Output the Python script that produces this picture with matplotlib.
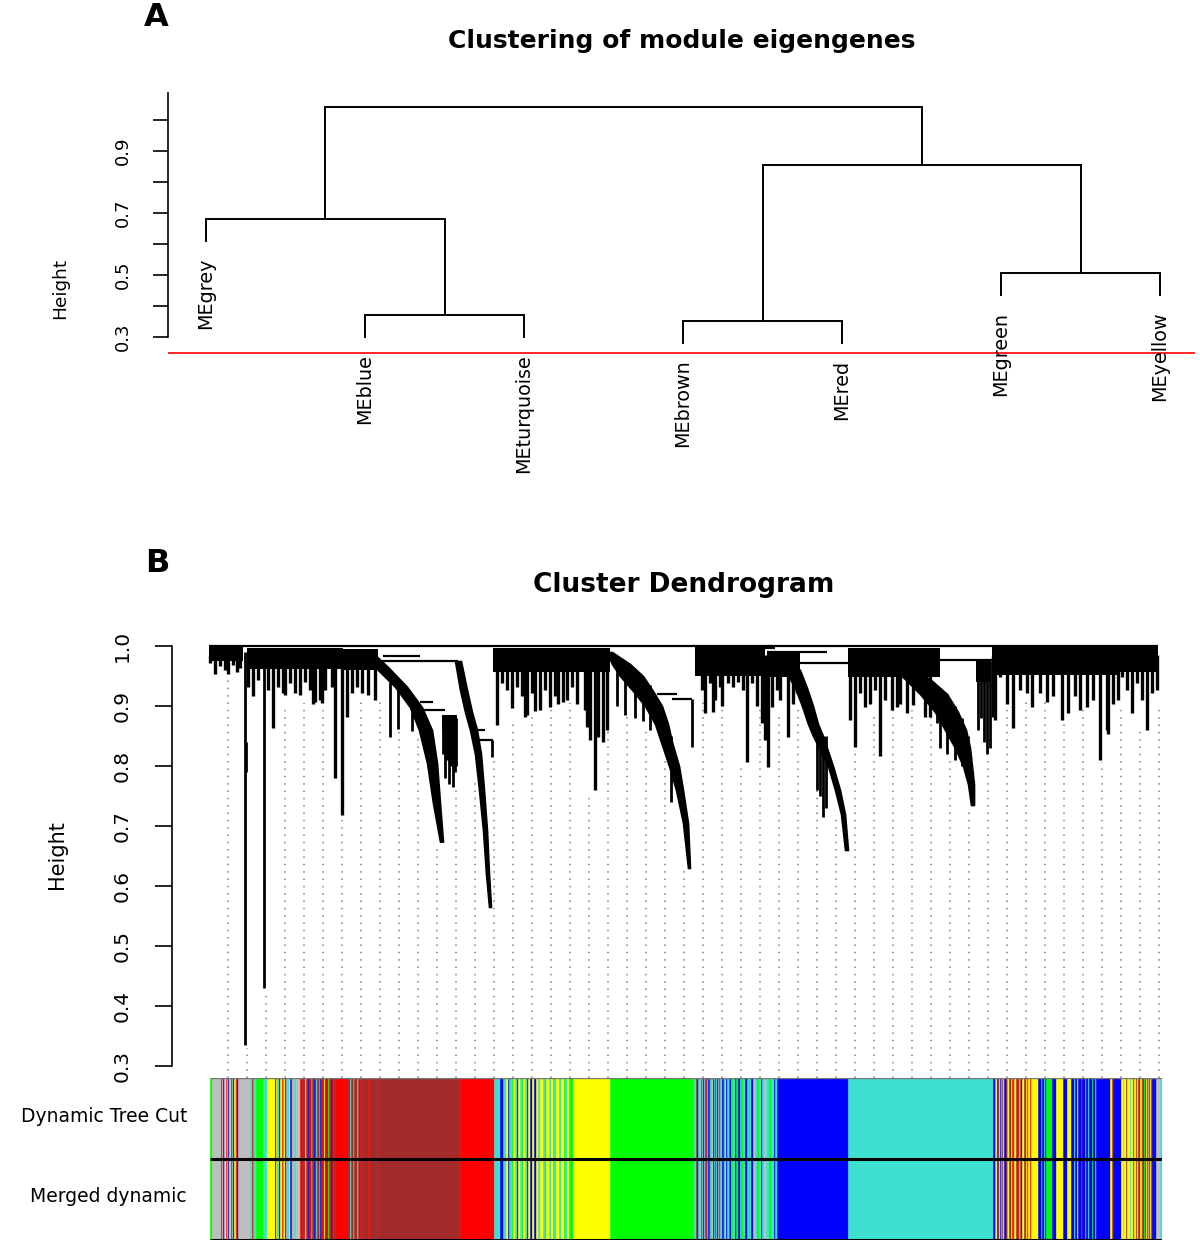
import numpy as np
import matplotlib
matplotlib.use("Agg")
import matplotlib.pyplot as plt

# ==========================================
# 0. FIGURE GEOMETRY (pixels of the 1200x1245 output)
# ==========================================
W, H = 1200, 1245


def fx(px):
    return px / W


def fy(py):
    return 1 - py / H


# ==========================================
# 1. DATA - PANEL A (module eigengenes)
# ==========================================
me_labels = ['MEgrey', 'MEblue', 'MEturquoise', 'MEbrown', 'MEred', 'MEgreen', 'MEyellow']
# R hclust style merges: negative = leaf, positive = earlier merge
me_merge = [(-4, -5), (-2, -3), (-6, -7), (-1, 2), (1, 3), (4, 5)]
me_height = [0.352, 0.371, 0.506, 0.681, 0.855, 1.042]
me_hang = 0.07
cut_height = 0.25

# ==========================================
# 2. DATA - PANEL B (gene dendrogram, leaf order position 0..949)
# ==========================================
# dense comb blocks: x0, x1, top, floor
block_x0 = [0, 38, 134, 233, 284, 486, 558, 639, 767, 783, 909]
block_x1 = [34, 134, 169, 248, 401, 556, 591, 731, 782, 909, 949]
block_top = [1.0, 0.997, 0.995, 0.885, 0.997, 0.997, 0.99, 0.997, 0.975, 0.998, 0.998]
block_floor = [0.975, 0.962, 0.96, 0.86, 0.956, 0.95, 0.948, 0.948, 0.94, 0.952, 0.956]

# comb spikes hanging from the top fringe
spike_x = [1, 6, 11, 16, 19, 24, 28, 31,
           39, 44, 49, 59, 64, 69, 74, 76, 81, 86, 91, 96, 101, 104, 106, 111, 113, 116, 123, 126, 133,
           138, 143, 148, 153, 159, 166,
           288, 293, 298, 303, 308, 313, 316, 318, 323, 326, 331, 336, 341, 346, 349, 354, 358, 363,
           368, 376, 378, 381, 386, 389, 394, 398,
           493, 496, 501, 504, 506, 511, 513, 519, 524, 529, 534, 538, 543, 548, 553, 556,
           559, 563, 568, 571, 579, 584, 588,
           641, 646, 651, 656, 661, 666, 671, 676, 683, 688, 691, 698, 704, 711, 716, 721,
           784, 786, 791, 798, 804, 811, 818, 823, 831, 838, 844, 853, 859, 866, 871, 878, 884,
           891, 898, 899, 904,
           909, 913, 918, 923, 928, 933, 938, 943, 948]
spike_bot = [0.971, 0.954, 0.966, 0.96, 0.954, 0.968, 0.957, 0.963,
             0.932, 0.916, 0.943, 0.927, 0.863, 0.932, 0.921, 0.918, 0.938, 0.921, 0.918, 0.94, 0.927,
             0.903, 0.907, 0.91, 0.905, 0.927, 0.932, 0.78, 0.718,
             0.882, 0.921, 0.932, 0.922, 0.918, 0.91,
             0.868, 0.938, 0.927, 0.897, 0.932, 0.916, 0.882, 0.885, 0.921, 0.891, 0.893, 0.927, 0.899,
             0.916, 0.904, 0.907, 0.91, 0.932, 0.904, 0.893, 0.865, 0.843, 0.76, 0.849, 0.84, 0.86,
             0.927, 0.888, 0.938, 0.89, 0.91, 0.932, 0.9, 0.938, 0.932, 0.94, 0.927, 0.806, 0.938,
             0.9, 0.871, 0.843,
             0.798, 0.899, 0.927, 0.91, 0.849, 0.904, 0.921,
             0.877, 0.832, 0.921, 0.899, 0.904, 0.927, 0.816, 0.91, 0.893, 0.899, 0.904, 0.888,
             0.902, 0.921, 0.882, 0.882,
             0.882, 0.876, 0.949, 0.904, 0.863, 0.927, 0.921, 0.899, 0.921, 0.907, 0.916, 0.876,
             0.888, 0.916, 0.893, 0.899, 0.91, 0.81, 0.86, 0.854, 0.904,
             0.91, 0.949, 0.927, 0.888, 0.938, 0.91, 0.86, 0.921, 0.927]

# single branches hanging below other branches: x, top, bottom
hang_x = [36, 55, 37,
          181, 189, 203, 234, 236, 238, 240, 242, 244, 246, 247,
          283,
          408, 416, 426, 434, 441, 483, 462, 467,
          608, 611, 614, 617,
          728, 731, 738, 746, 753, 759,
          769, 772, 775, 778, 781]
hang_top = [0.99, 0.99, 0.84,
            0.94, 0.93, 0.9, 0.885, 0.885, 0.885, 0.885, 0.885, 0.885, 0.885, 0.88,
            0.843,
            0.975, 0.965, 0.955, 0.945, 0.935, 0.912, 0.85, 0.8,
            0.86, 0.85, 0.85, 0.85,
            0.93, 0.93, 0.92, 0.9, 0.88, 0.85,
            0.975, 0.975, 0.975, 0.975, 0.975]
hang_bot = [0.335, 0.43, 0.79,
            0.848, 0.862, 0.858, 0.82, 0.78, 0.81, 0.77, 0.80, 0.765, 0.79, 0.80,
            0.815,
            0.90, 0.885, 0.88, 0.875, 0.86, 0.832, 0.74, 0.78,
            0.76, 0.75, 0.715, 0.73,
            0.871, 0.83, 0.82, 0.81, 0.8, 0.775,
            0.86, 0.88, 0.84, 0.82, 0.83]

# long module branches (bundles): heights and left/right edges
tail_h = [
    [0.99, 0.965, 0.932, 0.898, 0.86, 0.805, 0.738, 0.674],
    [0.975, 0.927, 0.89, 0.86, 0.82, 0.76, 0.693, 0.62, 0.565],
    [0.99, 0.97, 0.95, 0.925, 0.9, 0.87, 0.84, 0.80, 0.76, 0.705, 0.63],
    [0.985, 0.96, 0.93, 0.90, 0.87, 0.85, 0.80, 0.76, 0.72, 0.66],
    [0.985, 0.965, 0.945, 0.92, 0.89, 0.86, 0.83, 0.80, 0.77, 0.735],
]
tail_xl = [
    [151, 166, 186, 201, 210, 218, 224, 231],
    [246, 251, 256, 261, 266, 270, 274, 277, 280],
    [398, 403, 411, 424, 436, 446, 452, 460, 467, 474, 479],
    [566, 576, 586, 593, 599, 604, 619, 626, 632, 636],
    [671, 681, 696, 711, 726, 736, 746, 754, 759, 762],
]
tail_xr = [
    [163, 179, 198, 213, 223, 228, 231, 234],
    [252, 258, 263, 268, 272, 275, 278, 280, 282],
    [403, 421, 434, 444, 453, 459, 463, 470, 474, 479, 481],
    [576, 591, 598, 604, 609, 614, 624, 631, 636, 639],
    [678, 698, 721, 738, 749, 757, 761, 763, 765, 765],
]

# horizontal merge lines: x0, x1, height
link_x0 = [0, 171, 174, 211, 211, 224, 266, 268, 368, 371, 448, 463, 558, 591, 731, 486, 909]
link_x1 = [949, 249, 211, 224, 224, 236, 276, 284, 388, 393, 468, 483, 618, 639, 783, 566, 949]
link_h = [1.0, 0.975, 0.983, 0.907, 0.893, 0.893, 0.86, 0.843, 0.988, 0.977, 0.92, 0.912,
          0.99, 0.971, 0.977, 0.997, 0.997]

# guide line tops (50 guides, WGCNA addGuide)
guide_top = [0.943, 0.33, 0.425, 0.893, 0.905, 0.90, 0.71, 0.91, 0.915, 0.87,
             0.855, 0.665, 0.765, 0.78, 0.815, 0.877, 0.888, 0.915, 0.905, 0.755,
             0.888, 0.888, 0.865, 0.81, 0.627, 0.915, 0.915, 0.805, 0.90, 0.888,
             0.90, 0.843, 0.715, 0.827, 0.882, 0.893, 0.893, 0.888, 0.81, 0.73,
             0.815, 0.91, 0.91, 0.915, 0.87, 0.893, 0.807, 0.893, 0.86, 0.902]

# module colour runs along the leaves (code + width)
module_colors = {'K': '#BEBEBE', 'T': '#40E0D0', 'B': '#0000FF', 'N': '#A52A2A',
                 'Y': '#FFFF00', 'G': '#00FF00', 'R': '#FF0000'}
dynamic_runs = (
    "G2 K9 R1 K1 B1 K1 Y1 R1 K1 B1 Y1 K1 R1 T1 B1 Y1 K1 R1 B1 K12 "
    "T2 R1 G1 T2 G7 T4 Y8 "
    "B1 Y1 T2 B1 Y2 R1 T1 Y1 B1 K1 T2 Y1 B1 R1 K2 T2 K4 "
    "R2 N2 R1 Y1 N2 "
    "B1 R2 G1 N2 B1 R1 T1 N2 G1 B1 R2 N1 Y1 B1 R2 G1 N2 B1 R1 N2 "
    "R13 N2 T1 N2 G1 N3 T1 N2 R1 N2 N5 R1 N8 N83 R34 T6 B3 "
    "T3 Y2 B1 T3 G1 Y2 T2 B1 Y2 T2 G1 Y2 T2 B1 Y2 B2 Y2 B2 Y2 T2 "
    "Y3 T2 G1 Y3 T2 Y2 G1 T2 Y3 T2 Y3 G1 T2 Y2 G4 Y37 G84 "
    "T2 N1 B1 T2 K1 N1 T1 B1 K1 N2 T1 B1 N1 T2 K1 B1 T1 N1 T1 B1 K1 R1 T2 B1 N1 T1 K1 B1 "
    "T2 N1 B1 T1 G1 T2 B1 G2 B2 T1 G2 T2 B2 T2 G1 T1 B2 K2 T2 G2 T2 B1 T2 K2 T3 G2 T3 B1 T2 "
    "B71 T145 "
    "B2 T1 Y1 B1 N1 Y1 B1 T1 N1 Y1 B2 N1 T1 Y1 "
    "N2 Y1 R1 N1 Y2 N2 R1 Y1 N1 B1 Y2 N1 R1 Y1 N1 Y2 R1 "
    "Y7 B3 G1 B2 T1 B1 G6 B4 Y7 B4 Y4 B3 T1 B2 Y1 B3 N1 B3 G1 B2 T1 B3 G1 B2 T1 B14 Y2 N1 B8 "
    "Y2 K1 Y2 N1 Y3 T1 Y2 R1 Y2 N1 Y1 N1 R1 Y1 K1 N2 G1 R1 Y1 N1 K1 R1 Y1 N1 B2 B2 K2 K2 T2"
)
merged_runs = dynamic_runs
bar_rows = ['Dynamic Tree Cut', 'Merged dynamic']

# ==========================================
# 3. FIGURE
# ==========================================
plt.rcParams['font.family'] = 'DejaVu Sans'
fig = plt.figure(figsize=(12, 12.45), dpi=100)

# ---------- PANEL A ----------
axA = fig.add_axes([fx(168), fy(362), fx(1195) - fx(168), fy(93) - fy(362)])
axA.set_xlim(0.761, 7.22)
axA.set_ylim(0.2194, 1.0871)

node_xy = {}
leaf_bottom = {}
for i, ((l, r), h) in enumerate(zip(me_merge, me_height), start=1):
    xs, ys = [], []
    for c in (l, r):
        if c < 0:
            xs.append(-c)
            ys.append(h - me_hang)
            leaf_bottom[-c] = h - me_hang
        else:
            xs.append(node_xy[c][0])
            ys.append(node_xy[c][1])
    axA.plot([xs[0], xs[0], xs[1], xs[1]], [ys[0], h, h, ys[1]], color='black', lw=1.4,
             solid_joinstyle='miter')
    node_xy[i] = ((xs[0] + xs[1]) / 2, h)

for k, lab in enumerate(me_labels, start=1):
    axA.text(k, leaf_bottom[k] - 0.055, lab, rotation=90, ha='center', va='top', fontsize=13.8)

axA.axhline(cut_height, color='red', lw=1.2)

for s in ['top', 'right', 'bottom']:
    axA.spines[s].set_visible(False)
axA.spines['left'].set_bounds(0.3, 1.087)
axA.spines['left'].set_linewidth(1.2)
axA.set_xticks([])
axA.set_yticks(np.arange(0.3, 1.01, 0.1))
axA.set_yticklabels(['0.3', '', '0.5', '', '0.7', '', '0.9', ''], rotation=90, va='center')
axA.tick_params(axis='y', length=11, width=1.2, pad=15, labelsize=13)

fig.text(fx(60), fy(288), 'Height', rotation=90, ha='center', va='center', fontsize=13.3)
fig.text(fx(682), fy(41), 'Clustering of module eigengenes', ha='center', va='center',
         fontsize=18, fontweight='bold')
fig.text(fx(156), fy(17), 'A', ha='center', va='center', fontsize=23, fontweight='bold')

# ---------- PANEL B : dendrogram ----------
axB = fig.add_axes([fx(172), fy(1078), fx(1162) - fx(172), fy(636) - fy(1078)])
axB.set_xlim(-37, 953)
axB.set_ylim(0.28, 1.0167)

guide_x = 19 + 19 * np.arange(len(guide_top))
axB.vlines(guide_x, 0.28, guide_top, colors='#7f7f7f', linestyles=(0, (1.0, 3.8)), lw=1.1, zorder=1)

for x0, x1, top, fl in zip(block_x0, block_x1, block_top, block_floor):
    axB.fill_between([x0, x1], fl, top, color='black', lw=0, zorder=2)

axB.vlines(spike_x, spike_bot, 0.985, colors='black', lw=2.4, zorder=3)
axB.vlines(hang_x, hang_bot, hang_top, colors='black', lw=2.0, zorder=3)

for th, xl, xr in zip(tail_h, tail_xl, tail_xr):
    axB.fill_betweenx(th, xl, xr, color='black', lw=1.2, zorder=3)

axB.hlines(link_h, link_x0, link_x1, colors='black', lw=1.6, zorder=3)

for s in ['top', 'right', 'bottom']:
    axB.spines[s].set_visible(False)
axB.spines['left'].set_bounds(0.3, 1.0)
axB.spines['left'].set_linewidth(1.2)
axB.set_xticks([])
yt = np.round(np.arange(0.3, 1.01, 0.1), 1)
axB.set_yticks(yt)
axB.set_yticklabels([f'{v:.1f}' for v in yt], rotation=90, va='center')
axB.tick_params(axis='y', length=12, width=1.2, pad=17, labelsize=14.5)

fig.text(fx(57), fy(855), 'Height', rotation=90, ha='center', va='center', fontsize=15)
fig.text(fx(684), fy(585), 'Cluster Dendrogram', ha='center', va='center',
         fontsize=19, fontweight='bold')
fig.text(fx(157), fy(563), 'B', ha='center', va='center', fontsize=23, fontweight='bold')

# ---------- PANEL B : colour rows ----------
axC = fig.add_axes([fx(172), fy(1240), fx(1162) - fx(172), fy(1078) - fy(1240)])
axC.set_xlim(-37, 953)
axC.set_ylim(0, 2)
axC.axis('off')

for row, runs in enumerate([merged_runs, dynamic_runs]):
    start = 1
    spans, cols = [], []
    for tok in runs.split():
        w = int(tok[1:])
        spans.append((start, w))
        cols.append(module_colors[tok[0]])
        start += w
    axC.broken_barh(spans, (row, 1), facecolors=cols, edgecolors=cols, lw=0.4)

axC.hlines([0, 1], 1, 953, colors='black', lw=2.2, zorder=5)
axC.hlines(2, 1, 953, colors='#777777', lw=1.0, zorder=5)

fig.text(fx(187), fy(1117), bar_rows[0], ha='right', va='center', fontsize=13.5)
fig.text(fx(187), fy(1197), bar_rows[1], ha='right', va='center', fontsize=13.5)

fig.savefig('out.png', dpi=100)
